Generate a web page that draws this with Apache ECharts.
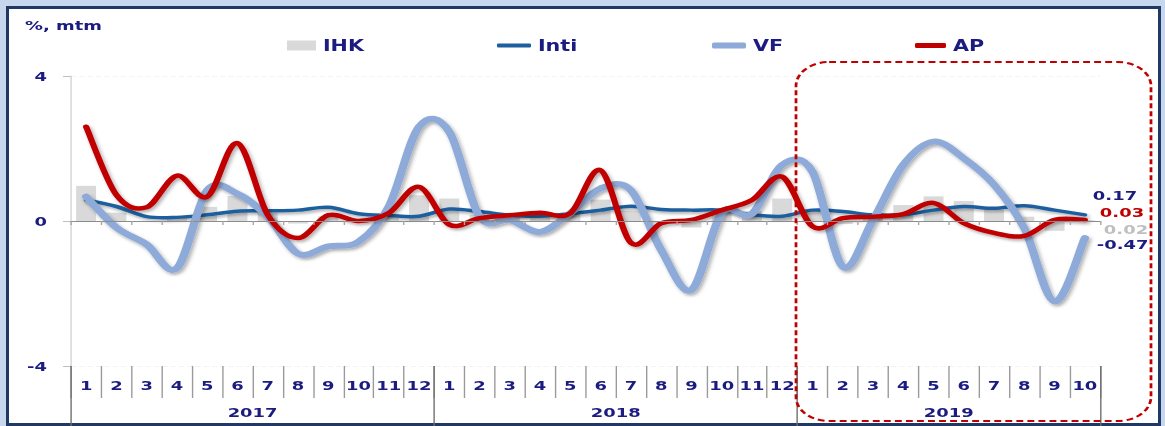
<!DOCTYPE html>
<html>
<head>
<meta charset="utf-8">
<script src="https://cdn.jsdelivr.net/npm/echarts@6/dist/echarts.min.js"></script>
<style>
  html, body { margin: 0; padding: 0; width: 1165px; height: 426px; overflow: hidden; background: #c7d7ee; }
  #frame { position: absolute; left: 6px; top: 6px; width: 1149px; height: 414px; border: 3px solid #1f3864; background: #ffffff; }
  #wrap { position: absolute; left: 0; top: 0; width: 844px; height: 426px; transform: scaleX(1.380332); transform-origin: 0 0; }
</style>
</head>
<body>
<div id="frame"></div>
<div id="wrap"></div>
<script>
// Monthly inflation (% month-to-month): headline and its components
const months = ['1','2','3','4','5','6','7','8','9','10','11','12',
                '1','2','3','4','5','6','7','8','9','10','11','12',
                '1','2','3','4','5','6','7','8','9','10'];
const years = ['2017', '2018', '2019'];
const yearSpans = [12, 12, 10];

const ihk  = [0.97, 0.23, -0.02, 0.09, 0.39, 0.69, 0.22, -0.07, 0.13, 0.01, 0.20, 0.71,
              0.62, 0.17, 0.20, 0.10, 0.21, 0.59, 0.28, -0.05, -0.18, 0.28, 0.27, 0.62,
              0.32, -0.08, 0.11, 0.44, 0.68, 0.55, 0.31, 0.12, -0.27, 0.02];
const inti = [0.58, 0.40, 0.12, 0.10, 0.17, 0.27, 0.28, 0.30, 0.38, 0.20, 0.15, 0.13,
              0.33, 0.26, 0.16, 0.13, 0.20, 0.30, 0.41, 0.32, 0.30, 0.30, 0.17, 0.13,
              0.30, 0.26, 0.17, 0.17, 0.30, 0.40, 0.35, 0.42, 0.30, 0.17];
const vf   = [0.67, -0.18, -0.65, -1.30, 0.85, 0.75, 0.12, -0.90, -0.70, -0.57, 0.40, 2.60,
              2.46, 0.12, 0.03, -0.30, 0.22, 0.90, 0.85, -0.80, -1.90, 0.22, 0.20, 1.55,
              1.36, -1.26, 0.03, 1.55, 2.19, 1.73, 1.00, -0.20, -2.22, -0.47];
const ap   = [2.60, 0.72, 0.38, 1.25, 0.67, 2.15, 0.17, -0.47, 0.16, 0.00, 0.22, 0.94,
              -0.10, 0.08, 0.16, 0.23, 0.22, 1.40, -0.60, -0.06, 0.03, 0.30, 0.58, 1.22,
              -0.15, 0.08, 0.12, 0.19, 0.50, -0.06, -0.33, -0.41, 0.03, 0.03];

const yMin = -4, yMax = 4, yStep = 4;

// The chart is laid out on an 844px-wide canvas and widened to the page width.
const S = 1165 / 844;
const bx = x => x / S;

const NAVY = '#1b1b80';
const FONT = 'DejaVu Sans';
const last = months.length - 1;

// year bands on a continuous 0..n scale: separators and centred labels
const yearEdges = [0];
yearSpans.forEach(n => yearEdges.push(yearEdges[yearEdges.length - 1] + n));
const yearCenters = yearSpans.map((n, i) => yearEdges[i] + n / 2);

const shadow = { shadowColor: 'rgba(0,0,0,0.32)', shadowBlur: 3, shadowOffsetX: 1.5, shadowOffsetY: 2 };

// Smoothed line drawn as one Catmull-Rom path through the axis coordinates,
// with the latest value written at its end.
function smoothLine(name, values, color, width, z, labelColor, dx, dy) {
  return {
    name: name, type: 'custom', xAxisIndex: 0, yAxisIndex: 0, z: z,
    data: values.map((v, i) => [i, v]),
    encode: { x: 0, y: 1 },
    itemStyle: { color: color },
    renderItem: function (params, api) {
      if (params.dataIndex !== 0) return null;
      const pts = values.map((v, i) => api.coord([i, v]));
      let d = 'M' + pts[0][0] + ',' + pts[0][1];
      for (let i = 0; i < pts.length - 1; i++) {
        const p0 = pts[Math.max(i - 1, 0)], p1 = pts[i], p2 = pts[i + 1], p3 = pts[Math.min(i + 2, pts.length - 1)];
        const c1x = p1[0] + (p2[0] - p0[0]) / 6, c1y = p1[1] + (p2[1] - p0[1]) / 6;
        const c2x = p2[0] - (p3[0] - p1[0]) / 6, c2y = p2[1] - (p3[1] - p1[1]) / 6;
        d += ' C' + c1x + ',' + c1y + ' ' + c2x + ',' + c2y + ' ' + p2[0] + ',' + p2[1];
      }
      const end = pts[pts.length - 1];
      return {
        type: 'group',
        children: [
          {
            type: 'path', shape: { pathData: d },
            style: Object.assign({ fill: 'none', stroke: color, lineWidth: width, lineCap: 'round', lineJoin: 'round' }, shadow)
          },
          {
            type: 'text', x: end[0] + bx(dx), y: end[1] + dy,
            style: {
              text: values[last].toFixed(2), fill: labelColor,
              font: 'bold 13px "DejaVu Sans"', align: 'left', verticalAlign: 'middle'
            }
          }
        ]
      };
    }
  };
}

const legendBase = {
  top: 38, padding: 0, selectedMode: false,
  textStyle: { color: NAVY, fontFamily: FONT, fontWeight: 'bold', fontSize: 15 }
};

const chart = echarts.init(document.getElementById('wrap'), null, { renderer: 'svg', width: 844, height: 426 });

chart.setOption({
  animation: false,
  backgroundColor: 'transparent',
  title: {
    text: '%, mtm', left: bx(25), top: 19, padding: 0,
    textStyle: { color: NAVY, fontFamily: FONT, fontWeight: 'bold', fontSize: 13 }
  },
  legend: [
    Object.assign({}, legendBase, { data: ['IHK'],  left: bx(287), itemWidth: bx(29), itemHeight: 10, icon: 'rect' }),
    Object.assign({}, legendBase, { data: ['Inti'], left: bx(497), itemWidth: bx(34), itemHeight: 4,  icon: 'roundRect' }),
    Object.assign({}, legendBase, { data: ['VF'],   left: bx(712), itemWidth: bx(34), itemHeight: 6,  icon: 'roundRect' }),
    Object.assign({}, legendBase, { data: ['AP'],   left: bx(915), itemWidth: bx(31), itemHeight: 5,  icon: 'roundRect' })
  ],
  grid: { left: bx(71), right: 844 - bx(1100), top: 76, bottom: 60, containLabel: false },
  xAxis: [
    { // zero line
      type: 'category', data: months, position: 'bottom',
      axisLine: { show: true, onZero: true, lineStyle: { color: '#8c8c8c', width: 1 } },
      axisTick: { show: true, interval: 0, length: 4, lineStyle: { color: '#a6a6a6' } },
      axisLabel: { show: false }, splitLine: { show: false }, z: 5
    },
    { // month labels with separators
      type: 'category', data: months, position: 'bottom',
      axisLine: { show: false, onZero: false },
      axisTick: { show: true, interval: 0, length: 32, lineStyle: { color: '#9a9a9a' } },
      axisLabel: { interval: 0, margin: 13, color: NAVY, fontFamily: FONT, fontWeight: 'bold', fontSize: 13 },
      splitLine: { show: false }
    },
    { // year labels with separators
      type: 'value', min: 0, max: yearEdges[yearEdges.length - 1], position: 'bottom',
      axisLine: { show: false, onZero: false },
      axisTick: { show: true, customValues: yearEdges, length: 60, lineStyle: { color: '#6e6e6e' } },
      axisLabel: {
        customValues: yearCenters, margin: 40, color: NAVY, fontFamily: FONT, fontWeight: 'bold', fontSize: 13,
        formatter: v => years[yearCenters.indexOf(v)]
      },
      splitLine: { show: false }
    }
  ],
  yAxis: {
    type: 'value', min: yMin, max: yMax, interval: yStep,
    axisLine: { show: true, lineStyle: { color: '#d4d4d4' } },
    axisTick: { show: true, length: bx(8), lineStyle: { color: '#bfbfbf' } },
    axisLabel: { margin: bx(24), color: NAVY, fontFamily: FONT, fontWeight: 'bold', fontSize: 13 },
    splitLine: { show: true, lineStyle: { color: '#f3f3f3', type: 'dashed' } }
  },
  graphic: [{
    type: 'rect', silent: true, z: 100,
    shape: { x: bx(796), y: 62, width: bx(1151 - 796), height: 359, r: 24 },
    style: { fill: 'none', stroke: '#c00000', lineWidth: 2, lineDash: [5, 3] }
  }],
  series: [
    {
      name: 'IHK', type: 'bar', data: ihk, xAxisIndex: 0, barWidth: '66%', z: 1,
      itemStyle: { color: '#d9d9d9' },
      markPoint: {
        symbol: 'circle', symbolSize: 0, silent: true,
        label: {
          show: true, position: 'right', distance: 0, offset: [bx(19), 9],
          color: '#bfbfbf', fontFamily: FONT, fontWeight: 'bold', fontSize: 13,
          formatter: p => Number(p.value).toFixed(2)
        },
        data: [{ coord: [last, ihk[last]], value: ihk[last] }]
      }
    },
    smoothLine('Inti', inti, '#1f5f9e', 3.5, 2, NAVY, 8, -19),
    smoothLine('VF', vf, '#8eaad8', 6, 3, NAVY, 12, 6),
    smoothLine('AP', ap, '#c00000', 4.5, 4, '#c00000', 15, -7)
  ]
});
</script>
</body>
</html>
